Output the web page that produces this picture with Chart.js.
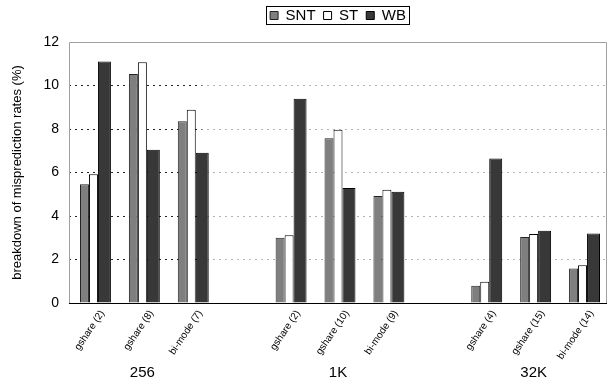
<!DOCTYPE html>
<html>
<head>
<meta charset="utf-8">
<script src="https://cdn.jsdelivr.net/npm/chart.js@4"></script>
<style>
  html, body { margin: 0; padding: 0; background: #fff; }
  #wrap { width: 614px; height: 387px; }
</style>
</head>
<body>
<div id="wrap"><canvas id="chart" width="614" height="387"></canvas></div>
<script>
/* ── DATA ───────────────────────────────────────────────────────── */
const CATEGORIES = ['gshare (2)', 'gshare (8)', 'bi-mode (7)', '',
                    'gshare (2)', 'gshare (10)', 'bi-mode (9)', '',
                    'gshare (4)', 'gshare (15)', 'bi-mode (14)'];
const GROUPS = ['', '256', '', '', '', '1K', '', '', '', '32K', ''];
const SNT = [5.46, 10.53, 8.36, null, 3.0, 7.58, 4.92, null, 0.79, 3.04, 1.59];
const ST  = [5.92, 11.07, 8.88, null, 3.12, 7.97, 5.21, null, 0.98, 3.17, 1.74];
const WB  = [11.1, 7.05, 6.91, null, 9.39, 5.29, 5.12, null, 6.64, 3.32, 3.2];
const Y_MIN = 0, Y_MAX = 12, Y_STEP = 2;

const FONT = "'Liberation Sans', Arial, sans-serif";
const LEGEND_H = 42;   // space reserved above the plot box
Chart.defaults.font.family = FONT;
Chart.defaults.color = '#000';

/* ── plot box + legend frame ───────────────────────────────────── */
const framePlugin = {
  id: 'frame',
  beforeLayout(chart) {
    const lg = chart.legend;
    if (lg && !lg._fixedHeight) {
      const fit = lg.fit.bind(lg);
      lg.fit = function () { fit(); this.height = LEGEND_H; };
      lg._fixedHeight = true;
    }
  },
  afterDatasetsDraw(chart) {
    const { ctx, chartArea: a } = chart;
    ctx.save();
    ctx.strokeStyle = '#a0a0a0';
    ctx.lineWidth = 1;
    ctx.beginPath();
    ctx.moveTo(a.left + 0.5, a.bottom);
    ctx.lineTo(a.left + 0.5, a.top + 0.5);
    ctx.lineTo(a.right - 0.5, a.top + 0.5);
    ctx.lineTo(a.right - 0.5, a.bottom);
    ctx.stroke();
    ctx.strokeStyle = '#000';
    ctx.beginPath();
    ctx.moveTo(a.left, a.bottom + 0.5);
    ctx.lineTo(a.right, a.bottom + 0.5);
    ctx.stroke();
    ctx.restore();
  },
  afterDraw(chart) {
    const hb = chart.legend && chart.legend.legendHitBoxes;
    if (!hb || !hb.length) return;
    const left = Math.min(...hb.map(b => b.left)) - 4;
    const right = Math.max(...hb.map(b => b.left + b.width)) + 3;
    const top = Math.min(...hb.map(b => b.top)) - 2;
    const bottom = Math.max(...hb.map(b => b.top + b.height)) + 1;
    const ctx = chart.ctx;
    ctx.save();
    ctx.strokeStyle = '#000';
    ctx.lineWidth = 1;
    ctx.strokeRect(Math.round(left) + 0.5, Math.round(top) + 0.5, Math.round(right - left), Math.round(bottom - top));
    ctx.restore();
  }
};

function gridColor(c) {
  const v = c.tick && c.tick.value;
  if (v === Y_MIN || v === Y_MAX) return 'rgba(0,0,0,0)';
  const a = c.chart.chartArea;
  if (!a) return '#999';
  const g = c.chart.ctx.createLinearGradient(a.left, 0, a.right, 0);
  g.addColorStop(0, '#222');
  g.addColorStop(0.24, '#222');
  g.addColorStop(0.25, '#b4b4b4');
  g.addColorStop(1, '#b4b4b4');
  return g;
}

new Chart(document.getElementById('chart'), {
  type: 'bar',
  data: {
    labels: CATEGORIES,
    datasets: [
      { label: 'SNT', data: SNT, backgroundColor: '#7f7f7f', borderColor: '#222',
        borderWidth: 1, categoryPercentage: 27 / 49, barPercentage: 1 },
      { label: 'ST', data: ST, backgroundColor: '#ffffff', borderColor: '#000',
        borderWidth: 1, categoryPercentage: 27 / 49, barPercentage: 1 },
      { label: 'WB', data: WB, backgroundColor: '#383838', borderColor: '#000',
        borderWidth: 1, categoryPercentage: 33 / 49, barPercentage: 13 / 11 },
    ]
  },
  options: {
    responsive: false,
    animation: false,
    layout: { padding: { left: 0, right: 7, top: 0, bottom: 0 } },
    plugins: {
      legend: {
        position: 'top',
        fullSize: false,
        labels: {
          font: { size: 15, family: FONT },
          color: '#000',
          boxWidth: 8,
          boxHeight: 8,
          padding: 8,
        }
      },
      tooltip: { enabled: false },
    },
    scales: {
      x: {
        position: 'bottom',
        weight: 0,
        grid: { display: false, drawTicks: false },
        border: { display: false },
        ticks: {
          autoSkip: false,
          maxRotation: 56,
          minRotation: 56,
          padding: 5,
          labelOffset: 9,
          font: { size: 10, family: FONT },
          color: '#000',
        },
        afterFit(scale) { scale.height = 59; },
      },
      x2: {
        type: 'category',
        labels: GROUPS,
        position: 'bottom',
        weight: 1,
        grid: { display: false, drawTicks: false },
        border: { display: false },
        ticks: {
          autoSkip: false,
          maxRotation: 0,
          minRotation: 0,
          padding: 2,
          font: { size: 15, family: FONT },
          color: '#000',
        },
        afterFit(scale) { scale.height = 25; },
      },
      y: {
        min: Y_MIN,
        max: Y_MAX,
        grid: { color: gridColor, drawTicks: false, lineWidth: 1 },
        border: { display: false, dash: [2, 4] },
        ticks: {
          stepSize: Y_STEP,
          padding: 10,
          font: { size: 14, family: FONT },
          color: '#000',
        },
        title: {
          display: true,
          text: 'breakdown of misprediction rates (%)',
          font: { size: 13, family: FONT },
          color: '#000',
          padding: { top: 10, bottom: 0 },
        },
        afterFit(scale) { scale.width = 69; },
      }
    }
  },
  plugins: [framePlugin]
});
</script>
</body>
</html>
